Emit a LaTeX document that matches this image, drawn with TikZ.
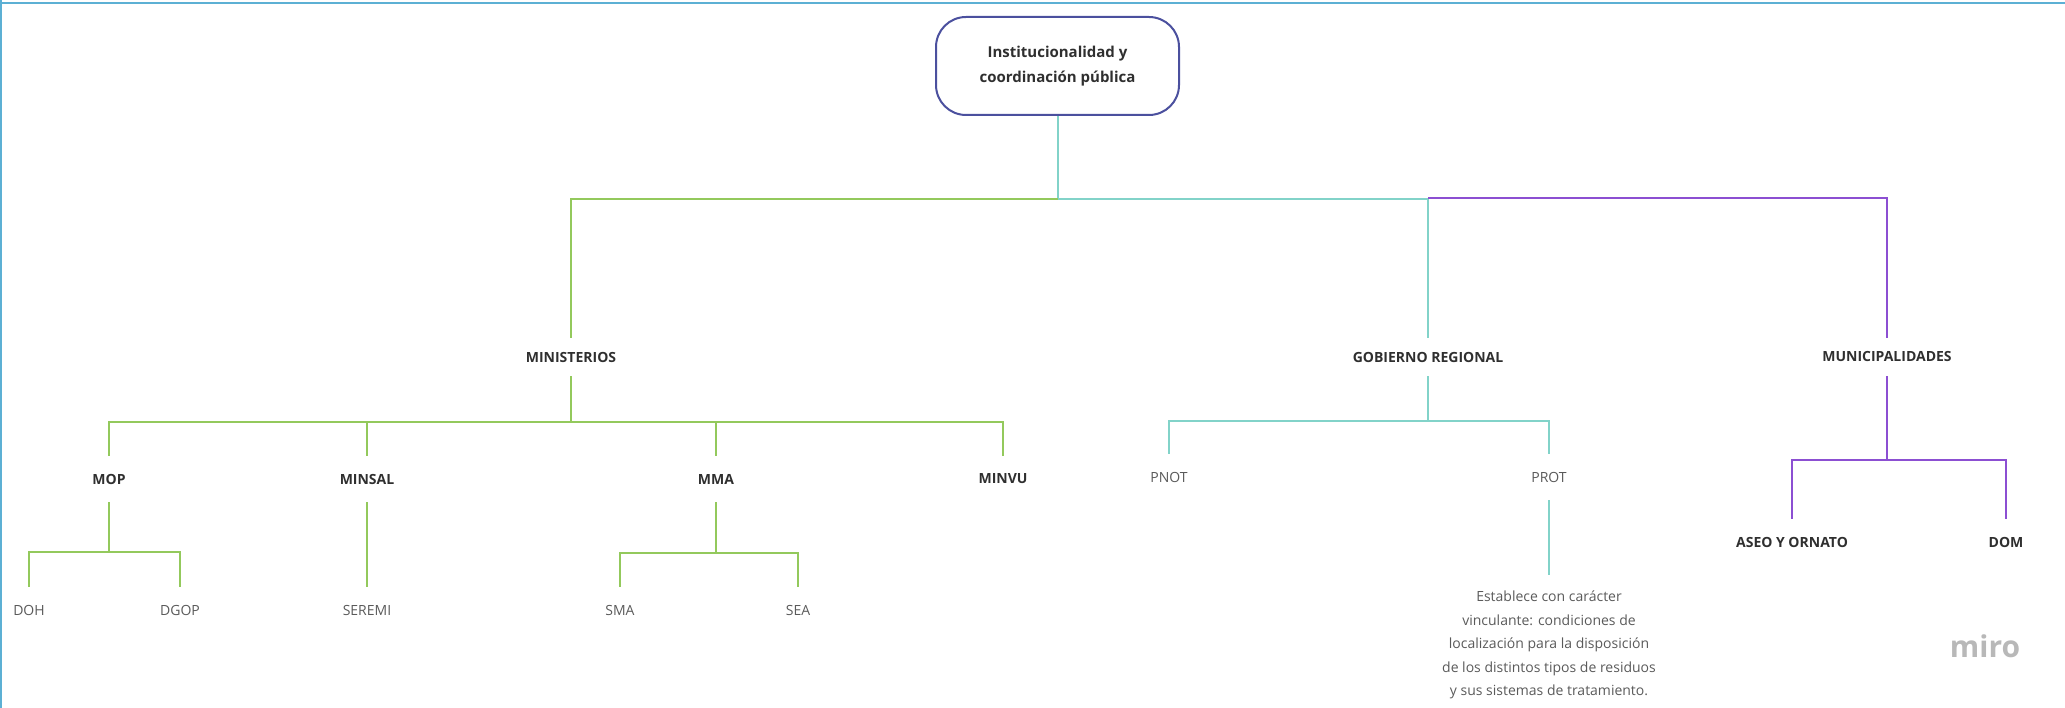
\documentclass[tikz,border=0pt]{standalone}
\usepackage{fontspec}
\setmainfont{Open Sans}
\definecolor{verdemiro}{HTML}{93C95C}
\definecolor{turqmiro}{HTML}{82D3C9}
\definecolor{moradomiro}{HTML}{8C4FD2}
\definecolor{bordeazul}{HTML}{4B509E}
\definecolor{marco}{HTML}{5CB0D4}
\definecolor{textoosc}{HTML}{2F2F2F}
\definecolor{textogris}{HTML}{5A5A5A}
\tikzset{
  raiz/.style={rectangle, draw=bordeazul, line width=2pt, rounded corners=30pt,
               minimum width=243pt, minimum height=98pt, align=center,
               font=\fontsize{15}{25}\selectfont\bfseries, text=textoosc},
  nivel/.style={inner sep=0pt, minimum height=38pt,
                font=\fontsize{14}{17}\selectfont\bfseries, text=textoosc},
  rama/.style={inner sep=0pt, minimum height=46pt,
               font=\fontsize{14}{17}\selectfont\bfseries, text=textoosc},
  hoja/.style={inner sep=0pt, minimum height=46pt,
               font=\fontsize{14}{17}\selectfont, text=textogris},
  nota/.style={align=center, inner xsep=2pt, inner ysep=16pt,
               font=\fontsize{14}{23.5}\selectfont, text=textogris},
  lverde/.style={draw=verdemiro, line width=2pt},
  lturq/.style={draw=turqmiro, line width=2pt},
  lmorado/.style={draw=moradomiro, line width=2pt}
}

\begin{document}
\begin{tikzpicture}[x=1pt, y=-1pt]
\useasboundingbox (0,0) rectangle (2065,708);
\draw[marco, line width=2pt] (0,3) -- (2065,3);
\draw[marco, line width=2pt] (1,0) -- (1,708);

\node[raiz] (raiz) at (1057.5,66) {Institucionalidad y\\coordinación pública};

\node[nivel] (ministerios) at (571,357) {MINISTERIOS};
\node[nivel] (gobierno) at (1428,357) {GOBIERNO REGIONAL};
\node[nivel] (municipal) at (1887,357) {MUNICIPALIDADES};

\node[rama] (mop) at (109,479) {MOP};
\node[rama] (minsal) at (367,479) {MINSAL};
\node[rama] (mma) at (716,479) {MMA};
\node[rama] (minvu) at (1003,479) {MINVU};

\node[hoja] (pnot) at (1169,477) {PNOT};
\node[hoja] (prot) at (1549,477) {PROT};

\node[rama] (aseo) at (1792,542) {ASEO Y ORNATO};
\node[rama] (dom) at (2006,542) {DOM};

\node[hoja] (doh) at (29,610) {DOH};
\node[hoja] (dgop) at (180,610) {DGOP};
\node[hoja] (seremi) at (367,610) {SEREMI};
\node[hoja] (sma) at (620,610) {SMA};
\node[hoja] (sea) at (798,610) {SEA};

\node[nota, anchor=north] (texto) at (1549,575) {Establece con carácter\\
  vinculante: condiciones de\\
  localización para la disposición\\
  de los distintos tipos de residuos\\
  y sus sistemas de tratamiento.};

\node[font=\fontsize{30}{30}\selectfont\bfseries, text=black!28] (logo) at (1985,646) {miro};

\draw[lturq] (raiz.south) -- ++(0,83) -| (gobierno.north);
\draw[lverde] (raiz.south) ++(0,83) -| (ministerios.north);
\draw[lmorado] (gobierno.north) ++(0,-140) -| (municipal.north);

\draw[lverde] (ministerios.south) -- ++(0,46) -| (mop.north);
\draw[lverde] (ministerios.south) -- ++(0,46) -| (minsal.north);
\draw[lverde] (ministerios.south) -- ++(0,46) -| (mma.north);
\draw[lverde] (ministerios.south) -- ++(0,46) -| (minvu.north);

\draw[lturq] (gobierno.south) -- ++(0,45) -| (pnot.north);
\draw[lturq] (gobierno.south) -- ++(0,45) -| (prot.north);
\draw[lturq] (prot.south) -- (texto.north);

\draw[lmorado] (municipal.south) -- ++(0,84) -| (aseo.north);
\draw[lmorado] (municipal.south) -- ++(0,84) -| (dom.north);

\draw[lverde] (mop.south) -- ++(0,50) -| (doh.north);
\draw[lverde] (mop.south) -- ++(0,50) -| (dgop.north);
\draw[lverde] (minsal.south) -- (seremi.north);
\draw[lverde] (mma.south) -- ++(0,51) -| (sma.north);
\draw[lverde] (mma.south) -- ++(0,51) -| (sea.north);
\end{tikzpicture}
\end{document}
